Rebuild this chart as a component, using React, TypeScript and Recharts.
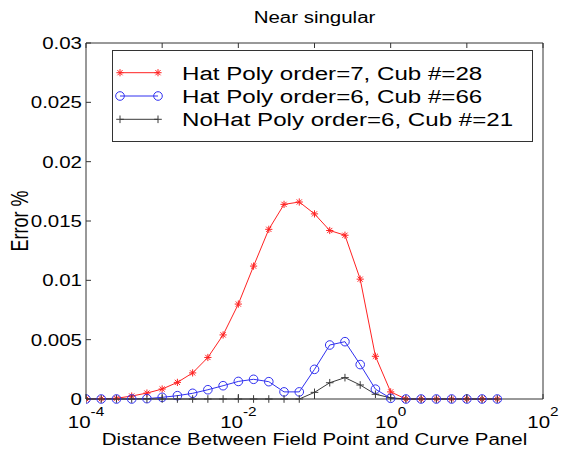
import React from 'react';
import { LineChart, Line, XAxis, YAxis, Legend } from 'recharts';

// Distance between field point and curve panel (log-spaced samples)
const distance = [
  1e-4, 1.585e-4, 2.512e-4, 3.981e-4, 6.31e-4,
  1e-3, 1.585e-3, 2.512e-3, 3.981e-3, 6.31e-3,
  1e-2, 1.585e-2, 2.512e-2, 3.981e-2, 6.31e-2,
  0.1, 0.1585, 0.2512, 0.3981, 0.631,
  1, 1.585, 2.512, 3.981, 6.31,
  10, 15.85, 25.12,
];

const hatOrder7 = [
  0, 0.00002, 0.00006, 0.00025, 0.0005,
  0.00084, 0.0014, 0.0022, 0.0035, 0.0054,
  0.008, 0.0112, 0.0143, 0.0164, 0.0166,
  0.0156, 0.0142, 0.0138, 0.0101, 0.0036,
  0.0006, 0, 0, 0, 0,
  0, 0, 0,
];

const hatOrder6 = [
  0, 0, 0, 0, 0.00003,
  0.00014, 0.00028, 0.00048, 0.00078, 0.00112,
  0.00148, 0.00166, 0.00146, 0.0006, 0.0006,
  0.0025, 0.00455, 0.00483, 0.0029, 0.00083,
  0.00006, 0, 0, 0, 0,
  0, 0, 0,
];

const noHatOrder6 = [
  0, 0, 0, 0, 0,
  0, 0, 0, 0, 0,
  0, 0, 0, 0, 0,
  0.00056, 0.00137, 0.0018, 0.00118, 0.0004,
  0.0001, 0, 0, 0, 0,
  0, 0, 0,
];

const seriesNames = [
  'Hat Poly order=7, Cub #=28',
  'Hat Poly order=6, Cub #=66',
  'NoHat Poly order=6, Cub #=21',
];

const xDecadeTicks = [1e-4, 1e-3, 1e-2, 1e-1, 1, 10, 100];
const xLabelTicks = [1e-4, 1e-2, 1, 100];
const xLabelExponents = ['-4', '-2', '0', '2'];
const yTicks = [0, 0.005, 0.01, 0.015, 0.02, 0.025, 0.03];
const yTickLabels = ['0', '0.005', '0.01', '0.015', '0.02', '0.025', '0.03'];

const titleText = 'Near singular';
const xAxisTitle = 'Distance Between Field Point and Curve Panel';
const yAxisTitle = 'Error %';

const data = distance.map((d, i) => ({
  d,
  h7: hatOrder7[i],
  h6: hatOrder6[i],
  nh6: noHatOrder6[i],
}));

const FONT = '"Liberation Sans", Arial, Helvetica, sans-serif';
const SX = 1.28;
const AXIS = '#333';
const RED = '#ff2222';
const BLUE = '#3030f0';
const BLACK = '#3a3a3a';
const TICK = 5;

const StarMark = ({ cx, cy, color }: any) => {
  const r = 3.6;
  const d = r * 0.72;
  return (
    <g stroke={color} strokeWidth={1}>
      <line x1={cx - r} y1={cy} x2={cx + r} y2={cy} />
      <line x1={cx} y1={cy - r} x2={cx} y2={cy + r} />
      <line x1={cx - d} y1={cy - d} x2={cx + d} y2={cy + d} />
      <line x1={cx - d} y1={cy + d} x2={cx + d} y2={cy - d} />
    </g>
  );
};

const CircleMark = ({ cx, cy, color }: any) => (
  <circle cx={cx} cy={cy} r={4.3} fill="none" stroke={color} strokeWidth={1} />
);

const PlusMark = ({ cx, cy, color }: any) => {
  const r = 3.8;
  return (
    <g stroke={color} strokeWidth={1}>
      <line x1={cx - r} y1={cy} x2={cx + r} y2={cy} />
      <line x1={cx} y1={cy - r} x2={cx} y2={cy + r} />
    </g>
  );
};

const seriesStyle = [
  { key: 'h7', color: RED, Mark: StarMark },
  { key: 'h6', color: BLUE, Mark: CircleMark },
  { key: 'nh6', color: BLACK, Mark: PlusMark },
];

const makeDot = (Mark: any, color: string) => (props: any) => {
  const { cx, cy, index } = props;
  if (cx == null || cy == null) return <g key={`e${index}`} />;
  return <Mark key={`m${index}`} cx={cx} cy={cy} color={color} />;
};

const BottomTick = (props: any) => {
  const { x, y, payload } = props;
  const idx = xLabelTicks.indexOf(payload.value);
  return (
    <g>
      <line x1={x} x2={x} y1={y} y2={y - TICK} stroke={AXIS} />
      {idx >= 0 && (
        <g transform={`translate(${x},${y + 29}) scale(${SX},1)`}>
          <text textAnchor="middle" fontSize={16} fontFamily={FONT} fill="#000">
            <tspan>10</tspan>
            <tspan dy={-12} fontSize={12}>{xLabelExponents[idx]}</tspan>
          </text>
        </g>
      )}
    </g>
  );
};

const TopTick = (props: any) => {
  const { x, y } = props;
  return <line x1={x} x2={x} y1={y} y2={y + TICK} stroke={AXIS} />;
};

const LeftTick = (props: any) => {
  const { x, y, payload } = props;
  const idx = yTicks.indexOf(payload.value);
  return (
    <g>
      <line x1={x} x2={x + TICK} y1={y} y2={y} stroke={AXIS} />
      <g transform={`translate(${x - 4},${y + 6}) scale(${SX},1)`}>
        <text textAnchor="end" fontSize={16} fontFamily={FONT} fill="#000">
          {yTickLabels[idx]}
        </text>
      </g>
    </g>
  );
};

const RightTick = (props: any) => {
  const { x, y } = props;
  return <line x1={x} x2={x - TICK} y1={y} y2={y} stroke={AXIS} />;
};

const TitleLabel = (props: any) => {
  const vb = props.viewBox || {};
  const cx = vb.x + vb.width / 2;
  const plotTop = vb.y + vb.height;
  return (
    <g transform={`translate(${cx},${plotTop - 20}) scale(${SX},1)`}>
      <text textAnchor="middle" fontSize={16} fontFamily={FONT} fill="#000">{titleText}</text>
    </g>
  );
};

const XTitleLabel = (props: any) => {
  const vb = props.viewBox || {};
  const cx = vb.x + vb.width / 2;
  return (
    <g transform={`translate(${cx},${vb.y + 46}) scale(${SX},1)`}>
      <text textAnchor="middle" fontSize={16} fontFamily={FONT} fill="#000">{xAxisTitle}</text>
    </g>
  );
};

const YTitleLabel = (props: any) => {
  const vb = props.viewBox || {};
  const cy = vb.y + vb.height / 2;
  const plotLeft = vb.x + vb.width;
  return (
    <g transform={`translate(${plotLeft - 58},${cy}) scale(${SX},1) rotate(-90)`}>
      <text textAnchor="middle" fontSize={18} fontFamily={FONT} fill="#000">{yAxisTitle}</text>
    </g>
  );
};

const LegendBox = () => {
  const w = 421;
  const h = 92;
  return (
    <svg width={w} height={h} style={{ display: 'block', overflow: 'visible' }}>
      <rect x={0.5} y={0.5} width={w - 1} height={h - 1} fill="#fff" stroke={AXIS} strokeWidth={1} />
      {seriesNames.map((name, i) => {
        const { color, Mark } = seriesStyle[i];
        const cy = 22.7 + i * 23.3;
        return (
          <g key={name}>
            <line x1={8} x2={46} y1={cy} y2={cy} stroke={color} strokeWidth={1} />
            <Mark cx={8} cy={cy} color={color} />
            <Mark cx={46} cy={cy} color={color} />
            <g transform={`translate(70,${cy + 6.8}) scale(1.27,1)`}>
              <text fontSize={19} fontFamily={FONT} fill="#000">{name}</text>
            </g>
          </g>
        );
      })}
    </svg>
  );
};

export default function App() {
  return (
    <div style={{ position: 'absolute', left: 0, top: 0, width: 563, height: 453, background: '#fff' }}>
      <LineChart
        width={563}
        height={453}
        data={data}
        margin={{ top: 23, right: 10, left: 26, bottom: 24 }}
      >
        <XAxis
          dataKey="d"
          type="number"
          scale="log"
          domain={[1e-4, 100]}
          allowDataOverflow
          ticks={xDecadeTicks}
          interval={0}
          height={30}
          tickSize={0}
          tickMargin={0}
          tickLine={false}
          axisLine={{ stroke: AXIS }}
          tick={<BottomTick />}
          label={<XTitleLabel />}
        />
        <XAxis
          xAxisId="top"
          orientation="top"
          dataKey="d"
          type="number"
          scale="log"
          domain={[1e-4, 100]}
          allowDataOverflow
          ticks={xDecadeTicks}
          interval={0}
          height={20}
          tickSize={0}
          tickMargin={0}
          tickLine={false}
          axisLine={{ stroke: AXIS }}
          tick={<TopTick />}
          label={<TitleLabel />}
        />
        <YAxis
          type="number"
          domain={[0, 0.03]}
          ticks={yTicks}
          interval={0}
          width={60}
          tickSize={0}
          tickMargin={0}
          tickLine={false}
          axisLine={{ stroke: AXIS }}
          tick={<LeftTick />}
          label={<YTitleLabel />}
        />
        <YAxis
          yAxisId="right"
          orientation="right"
          type="number"
          domain={[0, 0.03]}
          ticks={yTicks}
          interval={0}
          width={10}
          tickSize={0}
          tickMargin={0}
          tickLine={false}
          axisLine={{ stroke: AXIS }}
          tick={<RightTick />}
        />
        <Legend
          layout="horizontal"
          verticalAlign="middle"
          align="center"
          content={() => <LegendBox />}
          wrapperStyle={{ position: 'absolute', left: 112, top: 50, width: 421, height: 92, margin: 0, padding: 0 }}
        />
        {seriesStyle.map((s, i) => (
          <Line
            key={s.key}
            dataKey={s.key}
            name={seriesNames[i]}
            type="linear"
            stroke={s.color}
            strokeWidth={1}
            dot={makeDot(s.Mark, s.color)}
            activeDot={false}
            isAnimationActive={false}
          />
        ))}
      </LineChart>
    </div>
  );
}
